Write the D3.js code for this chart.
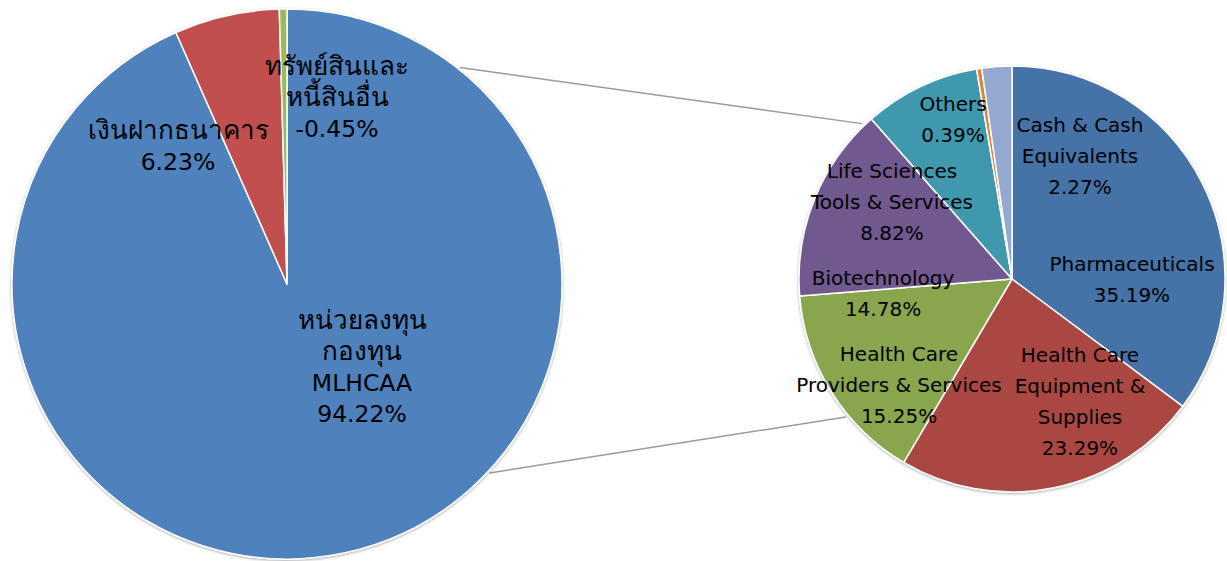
<!DOCTYPE html>
<html>
<head>
<meta charset="utf-8">
<script src="https://cdn.jsdelivr.net/npm/d3@7"></script>
<style>
  body { margin: 0; background: #fff; }
  text { font-family: Tahoma, "DejaVu Sans", "Noto Sans", sans-serif; fill: #000; }
</style>
</head>
<body>
<div id="chart"></div>
<script>
// main pie
const mainNames = [["หน่วยลงทุน", "กองทุน", "MLHCAA"], ["เงินฝากธนาคาร"], ["ทรัพย์สินและ", "หนี้สินอื่น"]];
const mainValues = [94.22, 6.23, -0.45];
const mainColors = ["#4f81bd", "#c0504d", "#9bbb59"];

// sub pie (holdings of the MLHCAA fund)
const subNames = [["Pharmaceuticals"], ["Health Care", "Equipment &", "Supplies"], ["Health Care", "Providers & Services"],
  ["Biotechnology"], ["Life Sciences", "Tools & Services"], ["Others"], ["Cash & Cash", "Equivalents"]];
const subValues = [35.19, 23.29, 15.25, 14.78, 8.82, 0.39, 2.27];
const subColors = ["#4572a7", "#aa4643", "#89a54e", "#71588f", "#4198af", "#db843d", "#93a9cf"];

// label centres, offset from the pie centre (Excel put them where it liked)
const mainLabelPos = [[75, 83], [-109, -138], [50, -187]];
const subLabelPos = [[120, 0], [68, 122], [-113, 106], [-129, 14], [-120, -77], [-59, -160], [68, -123]];

const width = 1227, height = 561;
const main = { cx: 287, cy: 284, r: 275 };
const sub = { cx: 1012, cy: 279, r: 213 };

const svg = d3.select("#chart").append("svg")
  .attr("width", width).attr("height", height)
  .attr("viewBox", [0, 0, width, height]);

const defs = svg.append("defs");
const f = defs.append("filter").attr("id", "shadow").attr("x", "-10%").attr("y", "-10%").attr("width", "120%").attr("height", "120%");
f.append("feGaussianBlur").attr("in", "SourceAlpha").attr("stdDeviation", 1.5).attr("result", "b");
f.append("feOffset").attr("in", "b").attr("dx", 0).attr("dy", 0.5).attr("result", "o");
f.append("feComponentTransfer").attr("in", "o").attr("result", "s")
  .append("feFuncA").attr("type", "linear").attr("slope", 0.35);
const fm = f.append("feMerge");
fm.append("feMergeNode").attr("in", "s");
fm.append("feMergeNode").attr("in", "SourceGraphic");

const pie = d3.pie().sort(null).value(d => Math.abs(d));
const fmt = d3.formatLocale({ decimal: ".", thousands: ",", grouping: [3], currency: ["", ""], minus: "-" }).format(".2f");
const thai = /[\u0E00-\u0E7F]/;

function drawPie(cfg, values, colors, names, labelPos, fontSize, thaiSize, lineH) {
  const arcs = pie(values);
  const arc = d3.arc().innerRadius(0).outerRadius(cfg.r);
  const g = svg.append("g").attr("transform", `translate(${cfg.cx},${cfg.cy})`);
  g.append("g").attr("filter", "url(#shadow)")
    .selectAll("path")
    .data(arcs)
    .join("path")
    .attr("d", arc)
    .attr("fill", (d, i) => colors[i])
    .attr("stroke", "#fff")
    .attr("stroke-width", 1.5)
    .attr("stroke-linejoin", "round");

  g.selectAll("text.lbl")
    .data(arcs)
    .join("text")
    .attr("class", "lbl")
    .attr("text-anchor", "middle")
    .style("font-size", fontSize + "px")
    .each(function (d, i) {
      const lines = names[i].concat([fmt(values[i]) + "%"]);
      const [ox, oy] = labelPos[i];
      const y0 = oy - (lines.length - 1) * lineH / 2;
      d3.select(this).selectAll("tspan")
        .data(lines)
        .join("tspan")
        .attr("x", ox)
        .attr("y", (l, j) => y0 + j * lineH)
        .attr("dy", "0.35em")
        .style("font-size", l => (thai.test(l) ? thaiSize : fontSize) + "px")
        .text(l => l);
    });
}

// connector lines between the two pies
const conn = [[38.6, 316], [133, 230.3]];
svg.append("g")
  .selectAll("line")
  .data(conn)
  .join("line")
  .attr("x1", d => main.cx + (main.r + 2) * Math.sin(d[0] * Math.PI / 180))
  .attr("y1", d => main.cy - (main.r + 2) * Math.cos(d[0] * Math.PI / 180))
  .attr("x2", d => sub.cx + (sub.r + 3) * Math.sin(d[1] * Math.PI / 180))
  .attr("y2", d => sub.cy - (sub.r + 3) * Math.cos(d[1] * Math.PI / 180))
  .attr("stroke", "#9a9a9a")
  .attr("stroke-width", 1.5);

drawPie(main, mainValues, mainColors, mainNames, mainLabelPos, 23.5, 26, 31.5);
drawPie(sub, subValues, subColors, subNames, subLabelPos, 20, 20, 31);
</script>
</body>
</html>
